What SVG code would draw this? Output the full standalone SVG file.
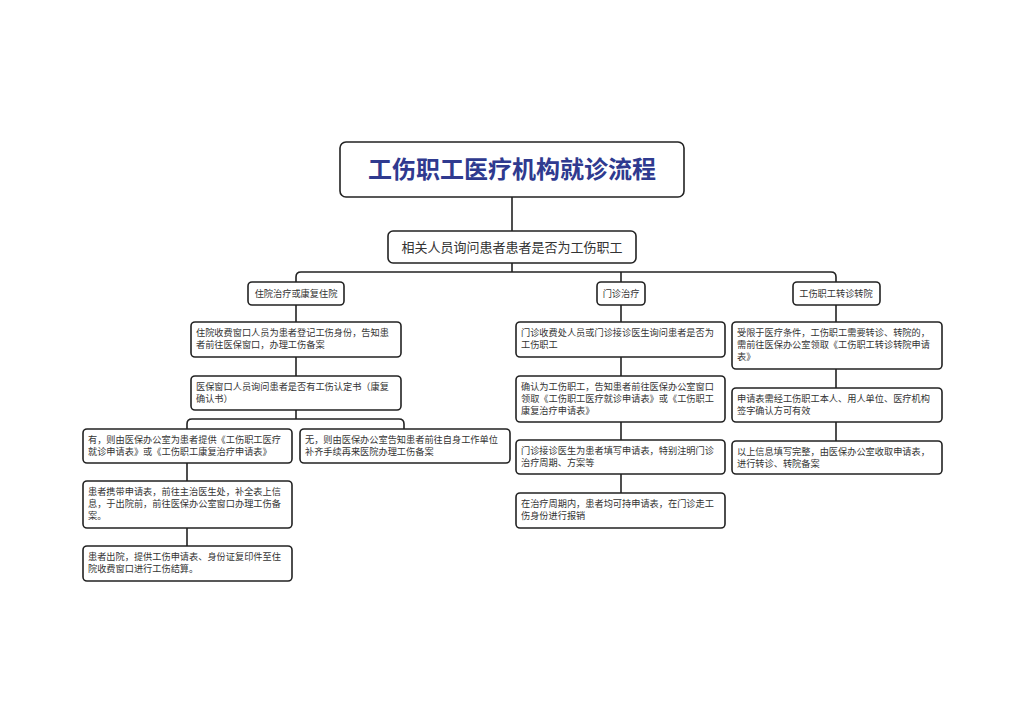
<svg xmlns="http://www.w3.org/2000/svg" width="1024" height="723" viewBox="0 0 1024 723">
<style>
rect.b{fill:#fff;stroke:#222;stroke-width:1.6}
text{font-family:"Noto Sans CJK SC","Noto Sans",sans-serif;fill:#333;font-size:9.2px}
.c path,.c line{stroke:#222;stroke-width:1.6;fill:none}
</style>
<rect width="1024" height="723" fill="#fff"/>
<g class="c">
<line x1="512" y1="197" x2="512" y2="231"/>
<line x1="512" y1="263" x2="512" y2="272"/>
<path d="M296 282V277Q296 272 301 272H831Q836 272 836 277V282"/>
<line x1="621" y1="272" x2="621" y2="282"/>
<line x1="296" y1="305" x2="296" y2="322"/>
<line x1="296" y1="357" x2="296" y2="376"/>
<line x1="296" y1="410" x2="296" y2="419"/>
<path d="M187 429V424Q187 419 192 419H399Q404 419 404 424V429"/>
<line x1="187" y1="463" x2="187" y2="481"/>
<line x1="187" y1="528" x2="187" y2="546"/>
<line x1="621" y1="305" x2="621" y2="322"/>
<line x1="621" y1="357" x2="621" y2="376"/>
<line x1="621" y1="422" x2="621" y2="440"/>
<line x1="621" y1="474" x2="621" y2="493"/>
<line x1="836" y1="305" x2="836" y2="322"/>
<line x1="836" y1="369" x2="836" y2="388"/>
<line x1="836" y1="422" x2="836" y2="441"/>
</g>
<g id="title"><rect class="b" x="340" y="142" width="344" height="55" rx="6"/><text x="512" y="178" text-anchor="middle" style="font-size:24px;font-weight:bold;fill:#2f3a8f">工伤职工医疗机构就诊流程</text></g>
<g id="q"><rect class="b" x="388" y="231" width="248" height="32" rx="5"/><text x="512" y="252" text-anchor="middle" style="font-size:13px">相关人员询问患者患者是否为工伤职工</text></g>
<g id="h1"><rect class="b" x="248" y="282" width="96" height="23" rx="4"/><text x="296" y="297" text-anchor="middle">住院治疗或康复住院</text></g>
<g id="h2"><rect class="b" x="597" y="282" width="48" height="23" rx="4"/><text x="621" y="297" text-anchor="middle">门诊治疗</text></g>
<g id="h3"><rect class="b" x="793" y="282" width="87" height="23" rx="4"/><text x="836" y="297" text-anchor="middle">工伤职工转诊转院</text></g>
<g id="l1"><rect class="b" x="191" y="322" width="210" height="35" rx="4"/><text x="196" y="336">住院收费窗口人员为患者登记工伤身份，告知患</text><text x="196" y="348">者前往医保窗口，办理工伤备案</text></g>
<g id="l2"><rect class="b" x="191" y="376" width="210" height="34" rx="4"/><text x="196" y="390">医保窗口人员询问患者是否有工伤认定书（康复</text><text x="196" y="402">确认书）</text></g>
<g id="l3a"><rect class="b" x="83" y="429" width="209" height="34" rx="4"/><text x="88" y="443">有，则由医保办公室为患者提供《工伤职工医疗</text><text x="88" y="455">就诊申请表》或《工伤职工康复治疗申请表》</text></g>
<g id="l3b"><rect class="b" x="300" y="429" width="210" height="34" rx="4"/><text x="305" y="443">无，则由医保办公室告知患者前往自身工作单位</text><text x="305" y="455">补齐手续再来医院办理工伤备案</text></g>
<g id="l4"><rect class="b" x="83" y="481" width="209" height="47" rx="4"/><text x="88" y="495">患者携带申请表，前往主治医生处，补全表上信</text><text x="88" y="507">息，于出院前，前往医保办公室窗口办理工伤备</text><text x="88" y="519">案。</text></g>
<g id="l5"><rect class="b" x="83" y="546" width="209" height="35" rx="4"/><text x="88" y="560">患者出院，提供工伤申请表、身份证复印件至住</text><text x="88" y="572">院收费窗口进行工伤结算。</text></g>
<g id="m1"><rect class="b" x="516" y="322" width="209" height="35" rx="4"/><text x="521" y="336">门诊收费处人员或门诊接诊医生询问患者是否为</text><text x="521" y="348">工伤职工</text></g>
<g id="m2"><rect class="b" x="516" y="376" width="209" height="46" rx="4"/><text x="521" y="390">确认为工伤职工，告知患者前往医保办公室窗口</text><text x="521" y="402">领取《工伤职工医疗就诊申请表》或《工伤职工</text><text x="521" y="414">康复治疗申请表》</text></g>
<g id="m3"><rect class="b" x="516" y="440" width="209" height="34" rx="4"/><text x="521" y="454">门诊接诊医生为患者填写申请表，特别注明门诊</text><text x="521" y="466">治疗周期、方案等</text></g>
<g id="m4"><rect class="b" x="516" y="493" width="209" height="35" rx="4"/><text x="521" y="507">在治疗周期内，患者均可持申请表，在门诊走工</text><text x="521" y="519">伤身份进行报销</text></g>
<g id="r1"><rect class="b" x="732" y="322" width="210" height="47" rx="4"/><text x="737" y="336">受限于医疗条件，工伤职工需要转诊、转院的，</text><text x="737" y="348">需前往医保办公室领取《工伤职工转诊转院申请</text><text x="737" y="360">表》</text></g>
<g id="r2"><rect class="b" x="732" y="388" width="210" height="34" rx="4"/><text x="737" y="402">申请表需经工伤职工本人、用人单位、医疗机构</text><text x="737" y="414">签字确认方可有效</text></g>
<g id="r3"><rect class="b" x="732" y="441" width="210" height="33" rx="4"/><text x="737" y="455">以上信息填写完整，由医保办公室收取申请表，</text><text x="737" y="467">进行转诊、转院备案</text></g>
</svg>
